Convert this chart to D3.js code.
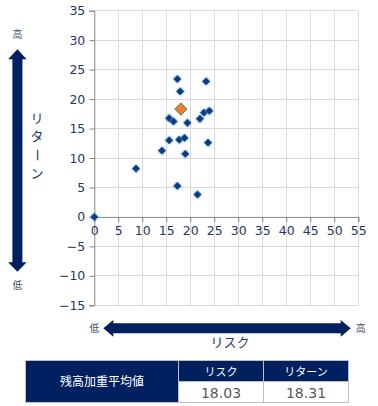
<!DOCTYPE html>
<html><head><meta charset="utf-8">
<script src="https://cdn.jsdelivr.net/npm/d3@7"></script>
<style>
html,body{margin:0;padding:0;background:#fff;}
svg{display:block;font-family:"DejaVu Sans",Verdana,sans-serif;}
.jp{font-family:"Noto Sans CJK JP","Noto Sans CJK SC",sans-serif;}
</style></head>
<body><svg id="c" width="378" height="406"></svg>
<script>
// Data
const riskValues   = [0, 8.7, 14.1, 15.6, 15.6, 16.5, 17.3, 17.3, 17.7, 17.9, 18.8, 18.96, 19.4, 21.5, 22.0, 22.85, 23.3, 23.7, 23.96];
const returnValues = [0, 8.2, 11.25, 16.75, 13.0, 16.2, 23.4, 5.26, 13.1, 21.3, 13.4, 10.7, 15.97, 3.8, 16.66, 17.7, 23.0, 12.6, 18.0];
const avgRisk = 18.03, avgReturn = 18.31;
const xTicks = [0,5,10,15,20,25,30,35,40,45,50,55];
const yTicks = [-15,-10,-5,0,5,10,15,20,25,30,35];
const tableHeader = ["残高加重平均値", "リスク", "リターン"];
const tableValues = ["18.03", "18.31"];

const navy = "#002060";
const svg = d3.select("#c");
const x = d3.scaleLinear().domain([0,55]).range([94.3,358.3]);
const y = d3.scaleLinear().domain([-15,35]).range([305.3,10.7]);

// gridlines
svg.append("g").selectAll("line").data(xTicks.slice(1)).join("line")
  .attr("x1",d=>x(d)).attr("x2",d=>x(d)).attr("y1",y(35)).attr("y2",y(-15))
  .attr("stroke","#d9d9d9").attr("stroke-width",1).attr("shape-rendering","crispEdges");
svg.append("g").selectAll("line").data(yTicks.filter(d=>d!==0)).join("line")
  .attr("x1",x(0)).attr("x2",x(55)).attr("y1",d=>y(d)).attr("y2",d=>y(d))
  .attr("stroke","#d9d9d9").attr("stroke-width",1).attr("shape-rendering","crispEdges");

// Y axis
const yAxis = svg.append("g").attr("transform",`translate(${x(0)},0)`)
  .call(d3.axisLeft(y).tickValues(yTicks).tickSize(5).tickPadding(4).tickFormat(d3.format("d")));
yAxis.select(".domain").attr("stroke","#868686");
yAxis.selectAll(".tick line").attr("stroke","#868686");
yAxis.selectAll("text").attr("fill","#1f3864").style("font-size","12.5px").attr("font-family","DejaVu Sans, Verdana, sans-serif");

// X axis at y=0
const xAxis = svg.append("g").attr("transform",`translate(0,${y(0)})`)
  .call(d3.axisBottom(x).tickValues(xTicks).tickSize(5).tickPadding(4).tickFormat(d3.format("d")));
xAxis.select(".domain").attr("stroke","#868686");
xAxis.selectAll(".tick line").attr("stroke","#868686");
xAxis.selectAll("text").attr("fill","#1f3864").style("font-size","12.5px").attr("font-family","DejaVu Sans, Verdana, sans-serif");

// glow filter
const defs = svg.append("defs");
const f = defs.append("filter").attr("id","glow").attr("x","-50%").attr("y","-50%").attr("width","200%").attr("height","200%");
f.append("feGaussianBlur").attr("in","SourceAlpha").attr("stdDeviation","1.3").attr("result","b");
f.append("feFlood").attr("flood-color","#5b9bd5").attr("flood-opacity","1");
f.append("feComposite").attr("in2","b").attr("operator","in").attr("result","g");
const m = f.append("feMerge"); m.append("feMergeNode").attr("in","g"); m.append("feMergeNode").attr("in","SourceGraphic");

const pts = riskValues.map((r,i)=>({r, v:returnValues[i]}));
svg.append("g").selectAll("path").data(pts).join("path")
  .attr("d", d3.symbol().type(d3.symbolDiamond2).size(34))
  .attr("transform", d=>`translate(${x(d.r)},${y(d.v)})`)
  .attr("fill","#0b3a7a").attr("stroke","#1f5aa6").attr("stroke-width",0.8)
  .attr("filter","url(#glow)");

svg.append("path")
  .attr("d", d3.symbol().type(d3.symbolDiamond2).size(95))
  .attr("transform", `translate(${x(avgRisk)},${y(avgReturn)})`)
  .attr("fill","#ed7d31").attr("stroke","#548235").attr("stroke-width",1);

// vertical arrow
const vx = 17.4;
svg.append("path").attr("d",
  `M${vx},49.3 L${vx+9.3},59.3 L${vx+5},59.3 L${vx+5},262.3 L${vx+9.3},262.3 L${vx},271.7 L${vx-9.3},262.3 L${vx-5},262.3 L${vx-5},59.3 L${vx-9.3},59.3 Z`)
  .attr("fill",navy);
svg.append("text").attr("class","jp").attr("x",vx).attr("y",38).attr("text-anchor","middle").attr("fill","#44546a").style("font-size","10px").text("高");
svg.append("text").attr("class","jp").attr("x",vx).attr("y",289).attr("text-anchor","middle").attr("fill","#44546a").style("font-size","10px").text("低");
const rt = "リターン".split("");
svg.append("g").selectAll("text").data(rt).join("text").attr("class","jp")
  .attr("x",37).attr("y",(d,i)=>123+i*18.3).attr("text-anchor","middle").attr("fill","#1f3864")
  .style("font-size","13px")
  .attr("transform",(d,i)=> d==="ー" ? `rotate(90,37,${123+i*18.3-4.5})` : null)
  .text(d=>d);

// horizontal arrow
const hy = 328.3;
svg.append("path").attr("d",
  `M103.3,${hy} L113.3,${hy-8.4} L113.3,${hy-5} L340.7,${hy-5} L340.7,${hy-8.4} L350.7,${hy} L340.7,${hy+8.4} L340.7,${hy+5} L113.3,${hy+5} L113.3,${hy+8.4} Z`)
  .attr("fill",navy);
svg.append("text").attr("class","jp").attr("x",94.5).attr("y",hy+3.8).attr("text-anchor","middle").attr("fill","#44546a").style("font-size","10px").text("低");
svg.append("text").attr("class","jp").attr("x",360.7).attr("y",hy+3.8).attr("text-anchor","middle").attr("fill","#44546a").style("font-size","10px").text("高");
svg.append("text").attr("class","jp").attr("x",230).attr("y",347).attr("text-anchor","middle").attr("fill","#1f3864").style("font-size","13px").text("リスク");

// table
const tx = [25.5,178.5,263.5,348.5], ty=[360.5,381.5,402.5];
svg.append("rect").attr("x",tx[0]).attr("y",ty[0]).attr("width",tx[1]-tx[0]).attr("height",ty[2]-ty[0]).attr("fill",navy).attr("stroke","#bfbfbf");
svg.append("rect").attr("x",tx[1]).attr("y",ty[0]).attr("width",tx[3]-tx[1]).attr("height",ty[1]-ty[0]).attr("fill",navy).attr("stroke","#bfbfbf");
svg.append("rect").attr("x",tx[1]).attr("y",ty[1]).attr("width",tx[3]-tx[1]).attr("height",ty[2]-ty[1]).attr("fill","#fff").attr("stroke","#bfbfbf");
svg.append("line").attr("x1",tx[2]).attr("x2",tx[2]).attr("y1",ty[0]).attr("y2",ty[2]).attr("stroke","#bfbfbf");
svg.append("text").attr("class","jp").attr("x",(tx[0]+tx[1])/2).attr("y",386).attr("text-anchor","middle").attr("fill","#fff").style("font-size","12px").text(tableHeader[0]);
[1,2].forEach(i=>{
  svg.append("text").attr("class","jp").attr("x",(tx[i]+tx[i+1])/2).attr("y",375.5).attr("text-anchor","middle").attr("fill","#fff").style("font-size","11px").text(tableHeader[i]);
  svg.append("text").attr("x",(tx[i]+tx[i+1])/2).attr("y",398).attr("text-anchor","middle").attr("fill","#595959").style("font-size","14px").attr("font-family","DejaVu Sans, sans-serif").text(tableValues[i-1]);
});
</script></body></html>
